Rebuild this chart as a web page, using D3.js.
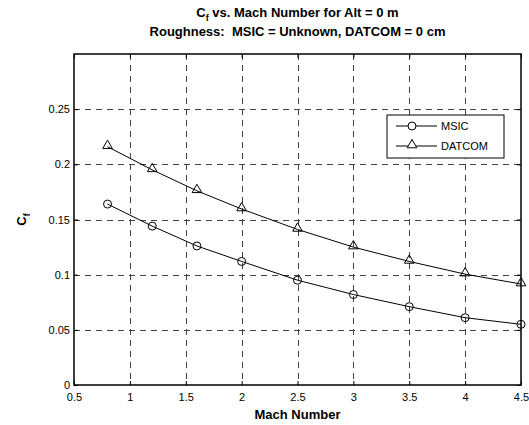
<!DOCTYPE html>
<html>
<head>
<meta charset="utf-8">
<script src="https://cdn.jsdelivr.net/npm/d3@7"></script>
<style>
  body { margin: 0; background: #fff; }
  svg { display: block; font-family: "Liberation Sans", Arial, sans-serif; }
</style>
</head>
<body>
<svg width="529" height="425"></svg>
<script>
// Mach numbers and skin friction coefficients
const mach = [0.8, 1.2, 1.6, 2.0, 2.5, 3.0, 3.5, 4.0, 4.5];
const msic = [0.164, 0.144, 0.126, 0.112, 0.095, 0.082, 0.071, 0.061, 0.055];
const datcom = [0.216, 0.195, 0.176, 0.1595, 0.141, 0.125, 0.112, 0.1005, 0.0915];
const xTicks = [0.5, 1, 1.5, 2, 2.5, 3, 3.5, 4, 4.5];
const yTicks = [0, 0.05, 0.1, 0.15, 0.2, 0.25];

const margin = {left: 74, right: 8, top: 54, bottom: 40};
const width = 529, height = 425;
const svg = d3.select('svg');

const x = d3.scaleLinear().domain([0.5, 4.5]).range([margin.left, width - margin.right]);
const y = d3.scaleLinear().domain([0, 0.3]).range([height - margin.bottom, margin.top]);

// grid
const grid = svg.append('g')
    .attr('stroke', '#444')
    .attr('stroke-width', 1)
    .attr('stroke-dasharray', '6,5');
grid.selectAll('.vg')
    .data(xTicks.slice(1, -1))
    .enter().append('line')
    .attr('x1', d => Math.round(x(d)) + 0.5)
    .attr('x2', d => Math.round(x(d)) + 0.5)
    .attr('y1', y(0.3))
    .attr('y2', y(0));
grid.selectAll('.hg')
    .data(yTicks.slice(1))
    .enter().append('line')
    .attr('y1', d => Math.round(y(d)) + 0.5)
    .attr('y2', d => Math.round(y(d)) + 0.5)
    .attr('x1', x(0.5))
    .attr('x2', x(4.5));

// axes (MATLAB-like inward ticks, box all round)
const xAxis = d3.axisBottom(x).tickValues(xTicks).tickSize(-4).tickPadding(8).tickFormat(d3.format('~g'));
const yAxis = d3.axisLeft(y).tickValues(yTicks).tickSize(-4).tickPadding(4).tickFormat(d3.format('~g'));

svg.append('g')
    .attr('transform', `translate(0,${y(0)})`)
    .call(xAxis)
    .call(g => g.select('.domain').remove());
svg.append('g')
    .attr('transform', `translate(${x(0.5)},0)`)
    .call(yAxis)
    .call(g => g.select('.domain').remove());
svg.append('g')
    .attr('transform', `translate(0,${y(0.3)})`)
    .call(d3.axisTop(x).tickValues(xTicks).tickSize(-4).tickFormat(''))
    .call(g => g.select('.domain').remove());
svg.append('g')
    .attr('transform', `translate(${x(4.5)},0)`)
    .call(d3.axisRight(y).tickValues(yTicks).tickSize(-4).tickFormat(''))
    .call(g => g.select('.domain').remove());

svg.selectAll('.tick text')
    .attr('font-size', 11)
    .attr('fill', '#000')
    .attr('font-family', '"Liberation Sans", Arial, sans-serif');
svg.selectAll('.tick line').attr('stroke', '#000');

svg.append('rect')
    .attr('x', x(0.5))
    .attr('y', y(0.3))
    .attr('width', x(4.5) - x(0.5))
    .attr('height', y(0) - y(0.3))
    .attr('fill', 'none')
    .attr('stroke', '#000')
    .attr('stroke-width', 1.5);

// series
const line = d3.line().x(d => x(d[0])).y(d => y(d[1]));
const msicPts = mach.map((m, i) => [m, msic[i]]);
const datPts = mach.map((m, i) => [m, datcom[i]]);

const tri = d3.symbol().type(d3.symbolTriangle).size(40);

svg.append('path').datum(msicPts)
    .attr('d', line).attr('fill', 'none').attr('stroke', '#000').attr('stroke-width', 1);
svg.append('path').datum(datPts)
    .attr('d', line).attr('fill', 'none').attr('stroke', '#000').attr('stroke-width', 1);

svg.selectAll('.mc')
    .data(msicPts)
    .enter().append('circle')
    .attr('cx', d => x(d[0]))
    .attr('cy', d => y(d[1]))
    .attr('r', 4)
    .attr('fill', 'none')
    .attr('stroke', '#000');

svg.selectAll('.dt')
    .data(datPts)
    .enter().append('path')
    .attr('d', tri)
    .attr('transform', d => `translate(${x(d[0])},${y(d[1]) - 1})`)
    .attr('fill', 'none')
    .attr('stroke', '#000');

// legend
const legend = svg.append('g').attr('transform', 'translate(387,115)');
legend.append('rect')
    .attr('width', 117).attr('height', 43)
    .attr('fill', '#fff').attr('stroke', '#000').attr('stroke-width', 1);
const legendItems = [
    {name: 'MSIC', marker: 'circle'},
    {name: 'DATCOM', marker: 'triangle'}
];
legendItems.forEach((item, i) => {
    const ly = 11 + i * 20;
    legend.append('line')
        .attr('x1', 9).attr('x2', 50).attr('y1', ly).attr('y2', ly)
        .attr('stroke', '#000');
    if (item.marker === 'circle') {
        legend.append('circle').attr('cx', 25).attr('cy', ly).attr('r', 4)
            .attr('fill', '#fff').attr('stroke', '#000');
    } else {
        legend.append('path').attr('d', tri)
            .attr('transform', `translate(25,${ly - 1})`)
            .attr('fill', '#fff').attr('stroke', '#000');
    }
    legend.append('text')
        .attr('x', 54).attr('y', ly + 4)
        .attr('font-size', 11)
        .text(item.name);
});

// titles
const cx = (x(0.5) + x(4.5)) / 2;
const t1 = svg.append('text')
    .attr('x', cx).attr('y', 17)
    .attr('text-anchor', 'middle')
    .attr('font-size', 13).attr('font-weight', 'bold');
t1.append('tspan').text('C');
t1.append('tspan').attr('font-size', 9).attr('dy', 4).text('f');
t1.append('tspan').attr('dy', -4).text(' vs. Mach Number for Alt = 0 m');

svg.append('text')
    .attr('x', cx).attr('y', 36)
    .attr('text-anchor', 'middle')
    .attr('font-size', 13).attr('font-weight', 'bold')
    .attr('xml:space', 'preserve')
    .text('Roughness:  MSIC = Unknown, DATCOM = 0 cm');

svg.append('text')
    .attr('x', cx).attr('y', 419)
    .attr('text-anchor', 'middle')
    .attr('font-size', 13).attr('font-weight', 'bold')
    .text('Mach Number');

const yl = svg.append('text')
    .attr('transform', `translate(26,${(y(0) + y(0.3)) / 2}) rotate(-90)`)
    .attr('text-anchor', 'middle')
    .attr('font-size', 13).attr('font-weight', 'bold');
yl.append('tspan').text('C');
yl.append('tspan').attr('font-size', 9).attr('dy', 4).text('f');
</script>
</body>
</html>
